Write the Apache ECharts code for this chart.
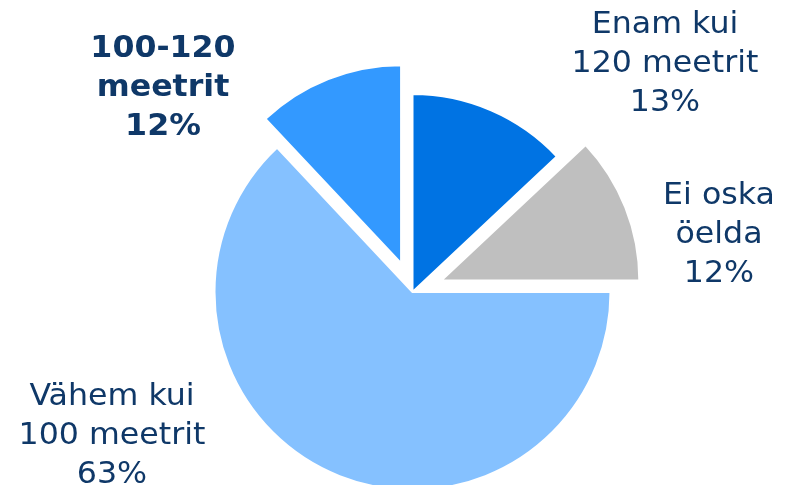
<!DOCTYPE html>
<html>
<head>
<meta charset="utf-8">
<script src="https://cdn.jsdelivr.net/npm/echarts@6/dist/echarts.min.js"></script>
<style>
html,body{margin:0;padding:0;background:#fff;}
#chart{width:790px;height:485px;}
</style>
</head>
<body>
<div id="chart"></div>
<script>
// Data
var categories = ["Enam kui\n120 meetrit", "Ei oska\nöelda", "Vähem kui\n100 meetrit", "100-120\nmeetrit"];
var values = [13, 12, 63, 12];
var exploded = [false, true, false, true];
var boldLabel = [false, false, false, true];

// Style
var colors = ["#0073e3", "#bfbfbf", "#85c1ff", "#3399ff"];
var labelPos = [[665, 64], [719, 235], [112, 436], [163, 88]];
var textColor = "#0f3868";

var chart = echarts.init(document.getElementById('chart'), null, {renderer: 'canvas'});

var data = categories.map(function (c, i) {
  return {
    name: c,
    value: values[i],
    selected: exploded[i],
    itemStyle: {color: colors[i]}
  };
});

var labels = categories.map(function (c, i) {
  return {
    type: 'text',
    x: labelPos[i][0],
    y: labelPos[i][1],
    scaleX: 1.055,
    silent: true,
    style: {
      text: c + "\n" + values[i] + "%",
      fontFamily: 'DejaVu Sans',
      fontSize: 30,
      fontWeight: boldLabel[i] ? 'bold' : 'normal',
      lineHeight: 39,
      fill: textColor,
      align: 'center',
      verticalAlign: 'middle'
    }
  };
});

chart.setOption({
  animation: false,
  graphic: labels,
  series: [{
    type: 'pie',
    center: [412.5, 292],
    radius: 198,
    startAngle: 90,
    clockwise: true,
    selectedMode: 'multiple',
    selectedOffset: 31,
    itemStyle: {borderColor: '#ffffff', borderWidth: 2},
    emphasis: {disabled: true},
    label: {show: false},
    labelLine: {show: false},
    data: data
  }]
});
</script>
</body>
</html>
